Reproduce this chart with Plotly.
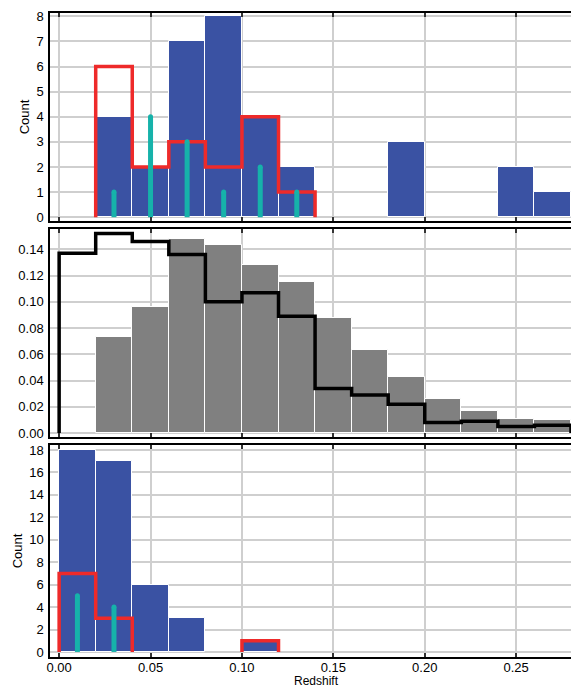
import plotly.graph_objects as go
from plotly.subplots import make_subplots

# ---- data -------------------------------------------------------------
bin_width = 0.02

# top panel: counts per redshift bin (bins start at 0.00)
top_blue_left = [0.02, 0.04, 0.06, 0.08, 0.10, 0.12, 0.18, 0.24, 0.26]
top_blue_counts = [4, 2, 7, 8, 4, 2, 3, 2, 1]
top_red_edges = [0.02, 0.04, 0.06, 0.08, 0.10, 0.12, 0.14]
top_red_counts = [6, 2, 3, 2, 4, 1]
top_cyan_z = [0.03, 0.05, 0.07, 0.09, 0.11, 0.13]
top_cyan_counts = [1, 4, 3, 1, 2, 1]

# middle panel: normalised distributions
mid_gray_left = [0.02, 0.04, 0.06, 0.08, 0.10, 0.12, 0.14, 0.16, 0.18, 0.20, 0.22, 0.24, 0.26]
mid_gray_frac = [0.073, 0.096, 0.148, 0.143, 0.128, 0.115, 0.088, 0.063, 0.043,
                 0.026, 0.017, 0.011, 0.010]
mid_black_edges = [0.00, 0.02, 0.04, 0.06, 0.08, 0.10, 0.12, 0.14, 0.16, 0.18,
                   0.20, 0.22, 0.24, 0.26, 0.28]
mid_black_frac = [0.137, 0.152, 0.146, 0.136, 0.100, 0.107, 0.089, 0.034, 0.029,
                  0.022, 0.008, 0.009, 0.005, 0.006]

# bottom panel: counts per redshift bin (two separate runs of non-empty bins)
bot_blue_left = [0.00, 0.02, 0.04, 0.06, 0.10]
bot_blue_counts = [18, 17, 6, 3, 1]
bot_red_edges_a = [0.00, 0.02, 0.04]
bot_red_counts_a = [7, 3]
bot_red_edges_b = [0.10, 0.12]
bot_red_counts_b = [1]
bot_cyan_z = [0.01, 0.03]
bot_cyan_counts = [5, 4]

x_ticks = [0.00, 0.05, 0.10, 0.15, 0.20, 0.25]

# ---- styling -----------------------------------------------------------
BLUE = "#3a52a3"
RED = "#ee2a2a"
CYAN = "#16b2aa"
GRAY = "#808080"
GRID = "#cfcfcf"
FONT = "Liberation Sans"

W, H = 571, 689


def step_path(edges, values):
    xs, ys = [edges[0]], [0]
    for lo, hi, v in zip(edges[:-1], edges[1:], values):
        xs += [lo, hi]
        ys += [v, v]
    xs.append(edges[-1])
    ys.append(0)
    return xs, ys


def stems(xv, hv):
    xs, ys = [], []
    for x, h in zip(xv, hv):
        xs += [x, x, None]
        ys += [0, h, None]
    return xs, ys


fig = make_subplots(rows=3, cols=1, shared_xaxes=False)


def add_bars(left, vals, color, row):
    fig.add_trace(go.Bar(
        x=[l + bin_width / 2 for l in left], y=vals, width=bin_width,
        marker=dict(color=color, line=dict(color="white", width=1)),
        showlegend=False, hoverinfo="skip"), row=row, col=1)


def add_step(edges, vals, color, row, width=3.5):
    xs, ys = step_path(edges, vals)
    fig.add_trace(go.Scatter(
        x=xs, y=ys, mode="lines", line=dict(color=color, width=width),
        showlegend=False, hoverinfo="skip"), row=row, col=1)


def add_stems(xv, hv, row):
    xs, ys = stems(xv, hv)
    fig.add_trace(go.Scatter(
        x=xs, y=ys, mode="lines", line=dict(color=CYAN, width=5),
        showlegend=False, hoverinfo="skip"), row=row, col=1)
    fig.add_trace(go.Scatter(
        x=xv, y=hv, mode="markers", marker=dict(color=CYAN, size=5),
        showlegend=False, hoverinfo="skip"), row=row, col=1)


# top
add_bars(top_blue_left, top_blue_counts, BLUE, 1)
add_step(top_red_edges, top_red_counts, RED, 1)
add_stems(top_cyan_z, top_cyan_counts, 1)
# middle
add_bars(mid_gray_left, mid_gray_frac, GRAY, 2)
add_step(mid_black_edges, mid_black_frac, "black", 2, width=3.5)
# bottom
add_bars(bot_blue_left, bot_blue_counts, BLUE, 3)
add_step(bot_red_edges_a, bot_red_counts_a, RED, 3)
add_step(bot_red_edges_b, bot_red_counts_b, RED, 3)
add_stems(bot_cyan_z, bot_cyan_counts, 3)

x_dom = [50 / W, 1.0]
y_doms = [
    [1 - 221 / H, 1 - 13 / H],
    [1 - 437 / H, 1 - 229 / H],
    [1 - 657 / H, 1 - 445 / H],
]
y_ranges = [[-0.15, 8.13], [-0.003, 0.1555], [-0.45, 18.45]]
y_dticks = [1, 0.02, 2]
y_formats = ["d", ".2f", "d"]
y_titles = ["Count", "", "Count"]

for i in range(3):
    xa = "xaxis" if i == 0 else f"xaxis{i + 1}"
    ya = "yaxis" if i == 0 else f"yaxis{i + 1}"
    fig.layout[xa].update(
        domain=x_dom, range=[-0.005, 0.28], tickvals=x_ticks,
        tickformat=".2f", showticklabels=(i == 2),
        showgrid=True, gridcolor=GRID, gridwidth=1.5, zeroline=False,
        showline=True, linecolor="black", linewidth=1.5, mirror="ticks",
        ticks="inside", ticklen=4, tickwidth=1.5, tickcolor="#333333",
        ticklabelstandoff=-2,
        tickfont=dict(family=FONT, size=13, color="black"),
        automargin=False)
    fig.layout[ya].update(
        domain=y_doms[i], range=y_ranges[i], dtick=y_dticks[i], tick0=0,
        tickformat=y_formats[i],
        showgrid=True, gridcolor=GRID, gridwidth=1.5, zeroline=False,
        showline=True, linecolor="black", linewidth=1.5,
        ticks="", ticklabelstandoff=2,
        tickfont=dict(family=FONT, size=13, color="black"),
        title=dict(text=y_titles[i], font=dict(family=FONT, size=13, color="black"),
                   standoff=4),
        automargin=False)

# x-axis title under the bottom panel, sitting just below the tick labels
fig.add_annotation(
    text="Redshift", xref="paper", yref="paper",
    x=316 / W, y=0, xanchor="center", yanchor="bottom", borderpad=0,
    showarrow=False, font=dict(family=FONT, size=12, color="black"))

fig.update_layout(
    width=W, height=H, margin=dict(l=0, r=0, t=0, b=0),
    paper_bgcolor="white", plot_bgcolor="white",
    barmode="overlay", bargap=0, showlegend=False,
    font=dict(family=FONT, size=13, color="black"),
)

fig.write_html("out.html")
